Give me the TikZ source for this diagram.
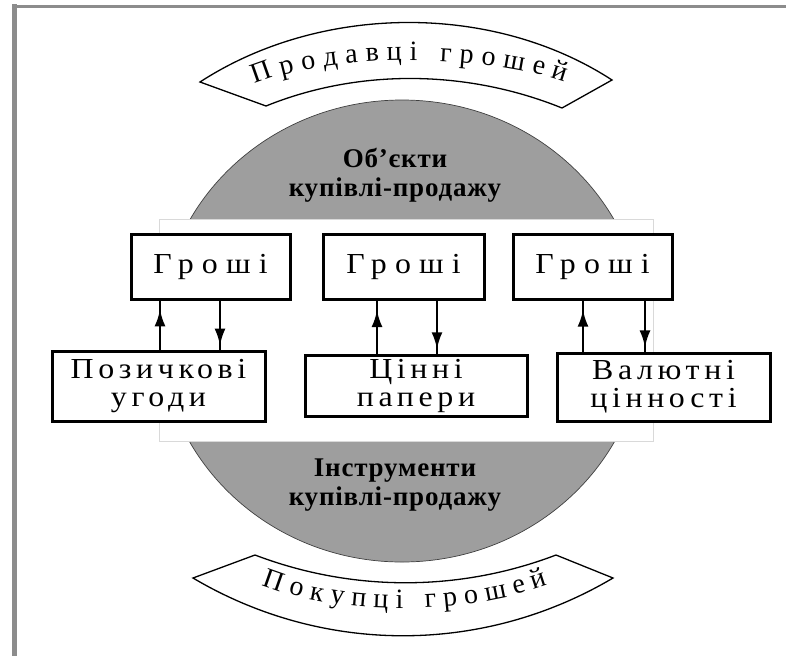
\documentclass[tikz,border=0pt]{standalone}
\usepackage{fontspec}
\setmainfont{Liberation Serif}
\newfontfamily\spacedfont{Liberation Serif}[LetterSpace=16,FakeStretch=1.1]
\newfontfamily\widefont{Liberation Serif}[LetterSpace=28,FakeStretch=1.1]
\newfontfamily\headfont{Liberation Serif}[LetterSpace=3]
\usetikzlibrary{decorations.text,decorations.markings,arrows.meta}
\definecolor{ellgray}{RGB}{158,158,158}
\tikzset{
  box/.style={draw=black, line width=3pt, fill=white, inner sep=0pt, align=center,
    font=\spacedfont\fontsize{29}{28}\selectfont},
  moneybox/.style={box, minimum height=65pt, font=\widefont\fontsize{29}{28}\selectfont},
  head/.style={align=center, font=\headfont\bfseries\fontsize{27}{29}\selectfont},
  banner/.style={draw=black, line width=1.3pt, fill=white},
  oval/.style={fill=ellgray, draw=black!75, line width=0.7pt},
  arrup/.style={line width=2.6pt, postaction={decorate},
    decoration={markings, mark=at position 0.82 with {\arrow{Latex[length=17pt,width=11pt]}}}},
  arrdown/.style={line width=2.6pt, postaction={decorate},
    decoration={markings, mark=at position 0.92 with {\arrow{Latex[length=17pt,width=11pt]}}}},
  frameline/.style={draw=black!45}
}
\begin{document}
\begin{tikzpicture}[x=1pt,y=-1pt]
\useasboundingbox (0,0) rectangle (786,656);
% frame
\draw[frameline, line width=5pt] (14.5,4) -- (14.5,656);
\draw[frameline, line width=3pt] (12,6.8) -- (786,6.8);
% top banner
\draw[banner] (200,82) .. controls (320,4) and (492,2) .. (612,80)
  -- (562,108) .. controls (468,70) and (360,68) .. (266,106) -- cycle;
\path[decorate, decoration={text along path, text align={fit to path},
  text={|\fontsize{28}{28}\selectfont|Продавці грошей}}]
  (255,84) .. controls (330,53) and (480,53) .. (565,82);
% bottom banner
\draw[banner] (193,578) .. controls (323,655) and (483,655) .. (613,578)
  -- (556,555) .. controls (459,592) and (352,592) .. (255,555) -- cycle;
\path[decorate, decoration={text along path, text align={fit to path},
  text={|\fontsize{28}{28}\selectfont|Покупці грошей}}]
  (262,585) .. controls (340,616) and (460,616) .. (548,585);
% grey oval
\draw[oval] (402,331) ellipse [x radius=242pt, y radius=231pt];
\draw[fill=white, draw=black!15, line width=0.8pt] (159,219) rectangle (653,441);
% headings
\node[head] (obj) at (395,175) {Об’єкти\\купівлі-продажу};
\node[head] (ins) at (395,485) {Інструменти\\купівлі-продажу};
% boxes
\node[moneybox, minimum width=159pt] (g1) at (210.5,266.5) {Гроші};
\node[moneybox, minimum width=161pt] (g2) at (403.5,266.5) {Гроші};
\node[moneybox, minimum width=159pt] (g3) at (592.5,266.5) {Гроші};
\node[box, minimum width=213pt, minimum height=70pt] (l1) at (158.5,386) {Позичкові\\угоди};
\node[box, minimum width=222pt, minimum height=61pt] (l2) at (416,385.5) {Цінні\\папери};
\node[box, minimum width=213pt, minimum height=68pt] (l3) at (663.5,387) {Валютні\\цінності};
% arrows
\coordinate (xa) at (160,0);
\coordinate (xb) at (220,0);
\coordinate (xc) at (377,0);
\coordinate (xd) at (437,0);
\coordinate (xe) at (583,0);
\coordinate (xf) at (645,0);
\draw[arrup] (l1.north -| xa) -- (g1.south -| xa);
\draw[arrdown] (g1.south -| xb) -- (l1.north -| xb);
\draw[arrup] (l2.north -| xc) -- (g2.south -| xc);
\draw[arrdown] (g2.south -| xd) -- (l2.north -| xd);
\draw[arrup] (l3.north -| xe) -- (g3.south -| xe);
\draw[arrdown] (g3.south -| xf) -- (l3.north -| xf);
\end{tikzpicture}
\end{document}
